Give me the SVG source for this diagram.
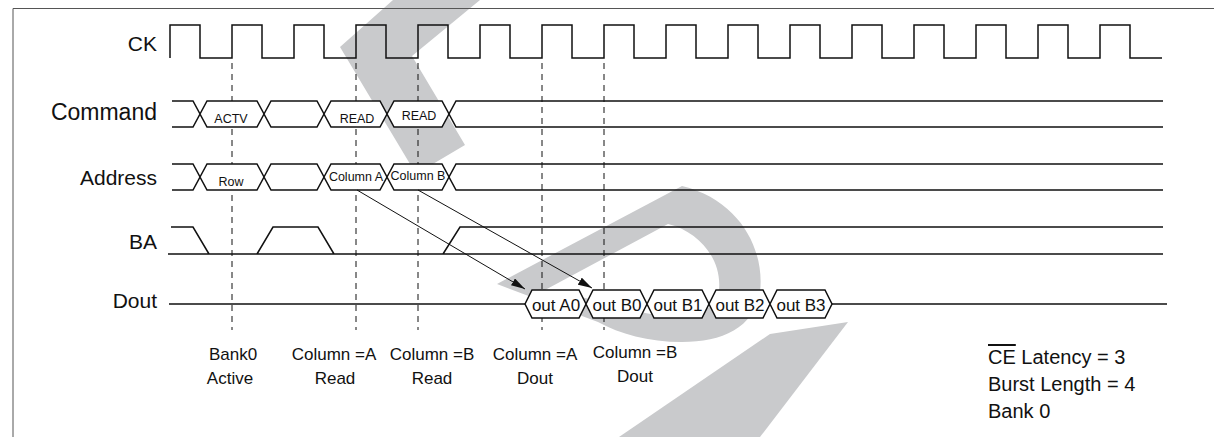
<svg xmlns="http://www.w3.org/2000/svg" width="1214" height="437" viewBox="0 0 1214 437">
<defs>
<style>
.wm{fill:#c9cacc;stroke:none}
.sig{fill:none;stroke:#111;stroke-width:1.5;stroke-linejoin:miter}
.bus{fill:#fff;stroke:#111;stroke-width:1.5;stroke-linejoin:miter}
.dash{fill:none;stroke:#111;stroke-width:1;stroke-dasharray:6 5}
.arr{fill:none;stroke:#111;stroke-width:1}
.lbl{font-family:"Liberation Sans",Arial,Helvetica,sans-serif;font-size:21px;fill:#111;text-anchor:end}
.sm{font-family:"Liberation Sans",Arial,Helvetica,sans-serif;font-size:12.5px;fill:#111;text-anchor:middle}
.dv{font-family:"Liberation Sans",Arial,Helvetica,sans-serif;font-size:17px;fill:#111;text-anchor:middle}
.bt{font-family:"Liberation Sans",Arial,Helvetica,sans-serif;font-size:17px;fill:#111;text-anchor:middle}
.note{font-family:"Liberation Sans",Arial,Helvetica,sans-serif;font-size:20px;fill:#111}
</style>
<marker id="ah" viewBox="0 0 14 8" refX="14" refY="4" markerWidth="14" markerHeight="8" markerUnits="userSpaceOnUse" orient="auto">
<path d="M0,0 L14,4 L0,8 Z" fill="#111"/>
</marker>
</defs>
<rect width="1214" height="437" fill="#fff"/>
<g id="watermark">
<polygon class="wm" points="393,0 480,0 412,56 465,145 416,174 340,47"/>
<path class="wm" fill-rule="evenodd" d="M497,284 L682,186 C740,200 765,250 760,292 C754,328 722,342 682,342 C648,342 620,334 598,322 Z M545,290 L668,224 C700,232 722,260 719,290 C715,310 697,317 672,316 C645,315 620,308 595,300 Z"/>
<polygon class="wm" points="619,437 770,334 848,322 760,437"/>
</g>
<g id="frame">
<path d="M13,437 V8.5 H1214" fill="none" stroke="#555" stroke-width="1"/>
</g>
<g id="connectors">
<line class="dash" x1="232" y1="63" x2="232" y2="330"/>
<line class="dash" x1="356" y1="63" x2="356" y2="330"/>
<line class="dash" x1="418" y1="63" x2="418" y2="330"/>
<line class="dash" x1="542" y1="63" x2="542" y2="330"/>
<line class="dash" x1="604" y1="63" x2="604" y2="330"/>
</g>
<g id="CK">
<text class="lbl" x="157" y="51">CK</text>
<path class="sig" d="M170,58 V25 H200 V58 H232 V25 H262 V58 H294 V25 H324 V58 H356 V25 H386 V58 H418 V25 H448 V58 H480 V25 H510 V58 H542 V25 H572 V58 H604 V25 H634 V58 H666 V25 H696 V58 H728 V25 H758 V58 H790 V25 H820 V58 H852 V25 H882 V58 H914 V25 H944 V58 H976 V25 H1006 V58 H1038 V25 H1068 V58 H1100 V25 H1130 V58 H1162"/>
</g>
<g id="Command">
<text class="lbl" x="157" y="120" style="font-size:23px">Command</text>
<path class="sig" d="M172,101 H193 L200,114 L193,127 H172"/>
<polygon class="bus" points="200,114 207,101 257,101 264,114 257,127 207,127"/>
<polygon class="bus" points="264,114 271,101 317,101 324,114 317,127 271,127"/>
<polygon class="bus" points="324,114 331,101 380,101 387,114 380,127 331,127"/>
<polygon class="bus" points="387,114 394,101 442,101 449,114 442,127 394,127"/>
<path class="sig" d="M1163,101 H456 L449,114 L456,127 H1163"/>
<text class="sm" x="231" y="123">ACTV</text>
<text class="sm" x="357" y="123">READ</text>
<text class="sm" x="419" y="120">READ</text>
</g>
<g id="Address">
<text class="lbl" x="157" y="185">Address</text>
<path class="sig" d="M172,164 H193 L200,177 L193,190 H172"/>
<polygon class="bus" points="200,177 207,164 257,164 264,177 257,190 207,190"/>
<polygon class="bus" points="264,177 271,164 317,164 324,177 317,190 271,190"/>
<polygon class="bus" points="324,177 331,164 380,164 387,177 380,190 331,190"/>
<polygon class="bus" points="387,177 394,164 442,164 449,177 442,190 394,190"/>
<path class="sig" d="M1163,164 H456 L449,177 L456,190 H1163"/>
<text class="sm" x="231" y="186">Row</text>
<text class="sm" x="356" y="181">Column A</text>
<text class="sm" x="418" y="180">Column B</text>
</g>
<g id="BA">
<text class="lbl" x="157" y="249">BA</text>
<path class="sig" d="M171,227 H193 L209,254 M257,254 L273,227 H318 L334,254 M443,254 L460,227 H1163 M168,254 H1163"/>
</g>
<g id="Dout">
<text class="lbl" x="157" y="308">Dout</text>
<path class="sig" d="M169,304 H525 M832,304 H1167"/>
<polygon class="bus" points="525,304 532,290 579,290 586,304 579,318 532,318"/>
<polygon class="bus" points="586,304 593,290 640,290 647,304 640,318 593,318"/>
<polygon class="bus" points="647,304 654,290 702,290 709,304 702,318 654,318"/>
<polygon class="bus" points="709,304 716,290 763,290 770,304 763,318 716,318"/>
<polygon class="bus" points="770,304 777,290 825,290 832,304 825,318 777,318"/>
<text class="dv" x="556" y="311">out A0</text>
<text class="dv" x="617" y="311">out B0</text>
<text class="dv" x="678" y="311">out B1</text>
<text class="dv" x="740" y="311">out B2</text>
<text class="dv" x="801" y="311">out B3</text>
</g>
<g id="arrows">
<line class="arr" x1="357" y1="190" x2="525" y2="289" marker-end="url(#ah)"/>
<line class="arr" x1="418" y1="190" x2="592" y2="288" marker-end="url(#ah)"/>
</g>
<g id="events">
<text class="bt" x="233" y="360">Bank0</text>
<text class="bt" x="230" y="384">Active</text>
<text class="bt" x="334" y="360">Column =A</text>
<text class="bt" x="335" y="384">Read</text>
<text class="bt" x="432" y="360">Column =B</text>
<text class="bt" x="432" y="384">Read</text>
<text class="bt" x="535" y="360">Column =A</text>
<text class="bt" x="535" y="384">Dout</text>
<text class="bt" x="635" y="358">Column =B</text>
<text class="bt" x="635" y="382">Dout</text>
</g>
<g id="settings">
<text class="note" x="988" y="364"><tspan text-decoration="overline">CE</tspan> Latency = 3</text>
<text class="note" x="988" y="391">Burst Length = 4</text>
<text class="note" x="988" y="418">Bank 0</text>
</g>
</svg>
